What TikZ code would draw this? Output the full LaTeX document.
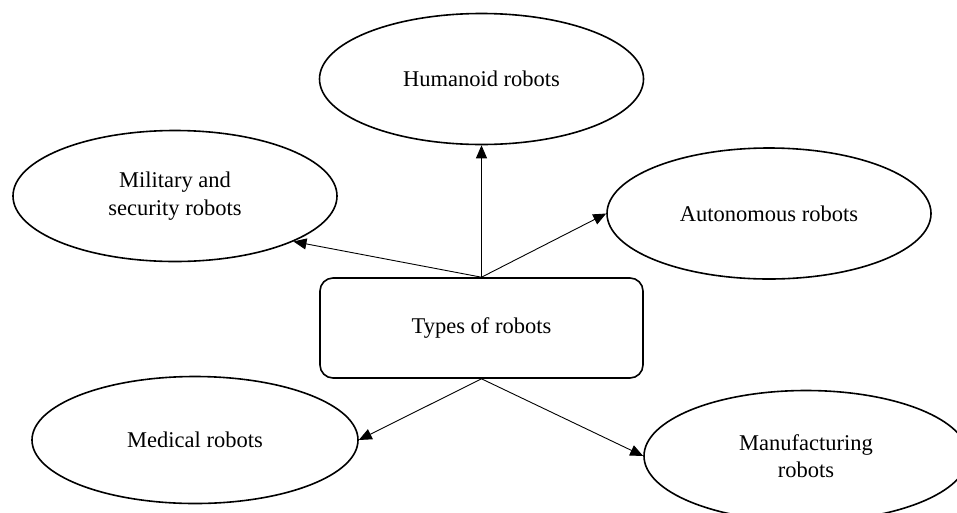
\documentclass[tikz,border=0pt]{standalone}
\usepackage{fontspec}
\setmainfont{Liberation Serif}
\usetikzlibrary{arrows.meta,shapes.geometric}
\tikzset{
  oval/.style={draw, ellipse, line width=1.6pt, minimum width=324pt, minimum height=131pt, inner sep=0pt, align=center, font=\fontsize{22.5}{27.5}\selectfont},
  rootbox/.style={draw, rectangle, rounded corners=13pt, line width=1.6pt, minimum width=323pt, minimum height=100pt, inner sep=0pt, align=center, font=\fontsize{22.5}{27.5}\selectfont},
  arr/.style={line width=0.9pt, -{Triangle[length=13pt,width=11pt]}}
}
\begin{document}
\begin{tikzpicture}[x=1pt,y=-1pt]
\useasboundingbox (0,0) rectangle (957,512);
\clip (0,0) rectangle (957,512);
\node[rootbox] (typ) at (481.5,328) {Types of robots};
\node[oval] (hum) at (481.5,79) {Humanoid robots};
\node[oval] (mil) at (175,196) {Military and\\security robots};
\node[oval] (aut) at (769,213.5) {Autonomous robots};
\node[oval, minimum width=326pt, minimum height=127pt] (med) at (195,440) {Medical robots};
\node[oval] (man) at (806,456) {Manufacturing\\robots};
\draw[arr] (typ.north) -- (hum.south);
\draw[arr] (typ.north) -- (mil.-21.7);
\draw[arr] (typ.north) -- (aut.west);
\draw[arr] (typ.south) -- (med.east);
\draw[arr] (typ.south) -- (man.west);
\end{tikzpicture}
\end{document}
